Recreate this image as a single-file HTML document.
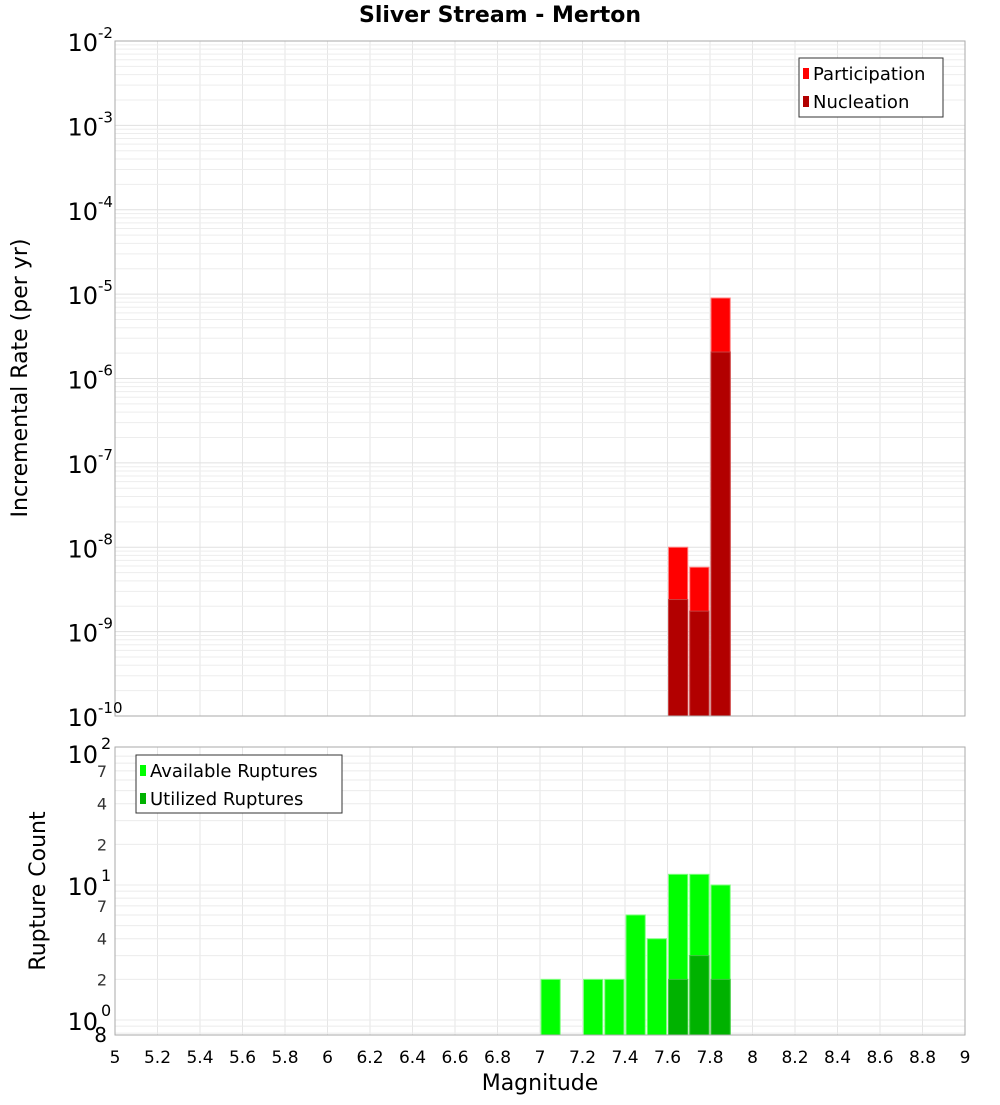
<!DOCTYPE html>
<html><head><meta charset="utf-8"><style>
body{margin:0;background:#fff;font-family:"Liberation Sans","DejaVu Sans",sans-serif}
svg text{font-family:"DejaVu Sans","Liberation Sans",sans-serif}
</style></head><body>
<svg id="c" width="1000" height="1100" xmlns="http://www.w3.org/2000/svg">
<rect width="1000" height="1100" fill="#fff"/>
<text x="500" y="22" text-anchor="middle" font-size="22" font-weight="bold">Sliver Stream - Merton</text>
<g id="top"></g>
<g id="bot"></g>
<text transform="translate(27,378) rotate(-90)" text-anchor="middle" font-size="22">Incremental Rate (per yr)</text>
<text transform="translate(45,891) rotate(-90)" text-anchor="middle" font-size="22">Rupture Count</text>
<text x="540" y="1090" text-anchor="middle" font-size="22">Magnitude</text>
</svg>
<script>
const binStarts=[7.6,7.7,7.8];
const participation=[1.0e-8,5.8e-9,9.0e-6];
const nucleation=[2.4e-9,1.75e-9,2.06e-6];
const countBins=[7.0,7.2,7.3,7.4,7.5,7.6,7.7,7.8];
const available=[2,2,2,6,4,12,12,10];
const utilBins=[7.6,7.7,7.8];
const utilized=[2,3,2];
const xTicks=[5,5.2,5.4,5.6,5.8,6,6.2,6.4,6.6,6.8,7,7.2,7.4,7.6,7.8,8,8.2,8.4,8.6,8.8,9];
const topExps=[-2,-3,-4,-5,-6,-7,-8,-9,-10];
const botMinorLabels=[2,4,7];

const NS="http://www.w3.org/2000/svg";
const L=115,R=965;
const X=m=>L+(m-5)*(R-L)/4;
const T0=41,T1=716;
const YT=v=>T1-(Math.log10(v)+10)*(T1-T0)/8;
const B0=747,B1=1035;
const YB=v=>1020-135*Math.log10(v);
function el(p,tag,a,txt){const e=document.createElementNS(NS,tag);for(const k in a)e.setAttribute(k,a[k]);if(txt!==undefined)e.textContent=txt;p.appendChild(e);return e;}
const gTop=document.getElementById('top'),gBot=document.getElementById('bot');
function frame(g,y0,y1,nm){
 for(const t of xTicks){const l=el(g,'line',{x1:X(t),x2:X(t),y1:y0,y2:y1,stroke:'#e6e6e6'});
 
 }
}
frame(gTop,T0,T1,'rate');frame(gBot,B0,B1,'count');
for(let e=-10;e<-2;e++)for(let k=1;k<10;k++){const y=YT(k*Math.pow(10,e));
 const l=el(gTop,'line',{x1:L,x2:R,y1:y,y2:y,stroke:k==1?'#e0e0e0':'#ededed'});
 
 }
for(let e=-1;e<2;e++)for(let k=1;k<10;k++){const v=k*Math.pow(10,e);const y=YB(v);if(y<B0||y>B1)continue;
 const l=el(gBot,'line',{x1:L,x2:R,y1:y,y2:y,stroke:'#ebebeb'});
 
 }
const bw=(R-L)/40;
function bar(g,m,v,yf,base,fill,stroke,nm){const y=yf(v);const r=el(g,'rect',{x:X(m)+1,y:y,width:bw-2,height:base-y,fill:fill,stroke:stroke,'stroke-width':1});
 
 }
binStarts.forEach((m,i)=>bar(gTop,m,participation[i],YT,T1,'#ff0000','#ff8080','participation-bar'));
binStarts.forEach((m,i)=>bar(gTop,m,nucleation[i],YT,T1,'#b20000','#c84040','nucleation-bar'));
countBins.forEach((m,i)=>bar(gBot,m,available[i],YB,B1,'#00ff00','#80ff80','available-bar'));
utilBins.forEach((m,i)=>bar(gBot,m,utilized[i],YB,B1,'#00b200','#40c840','utilized-bar'));
let f=el(gTop,'rect',{x:L,y:T0,width:R-L,height:T1-T0,fill:'none',stroke:'#aaa'});


f=el(gBot,'rect',{x:L,y:B0,width:R-L,height:B1-B0,fill:'none',stroke:'#aaa'});


for(const t of xTicks){const tx=el(gBot,'text',{x:X(t),y:1063,'text-anchor':'middle','font-size':17},String(t));
 
 }
for(const e of topExps){const y=YT(Math.pow(10,e));
 const tx=el(gTop,'text',{x:98,y:y+10,'text-anchor':'end','font-size':24},'10');
 
 
 const s=el(gTop,'text',{x:98,y:y-3,'font-size':15},String(e));
 
 }
[[2,'2'],[1,'1'],[0,'0']].forEach(([e,s])=>{const y=YB(Math.pow(10,e))+(e==2?3:0);
 const tx=el(gBot,'text',{x:98,y:y+10,'text-anchor':'end','font-size':24},'10');
 
 
 const sp=el(gBot,'text',{x:101,y:y-4,'font-size':16},s);
 
 });
for(let e=0;e<2;e++)for(const k of botMinorLabels){const y=YB(k*Math.pow(10,e));
 const tx=el(gBot,'text',{x:107,y:y+6,'text-anchor':'end','font-size':16,fill:'#333'},String(k));
 
 }
let t8=el(gBot,'text',{x:107,y:1042,'text-anchor':'end','font-size':20},'8');


function legend(g,x,y,w,h,items,nm){const lg=el(g,'g',{});
 
 
 el(lg,'rect',{x:x,y:y,width:w,height:h,fill:'#fff',stroke:'#333'});
 items.forEach((it,i)=>{const yy=y+15+i*28;const sw=el(lg,'rect',{x:x+4,y:yy-5,width:6,height:11,fill:it[1]});
 
 
 const tx=el(lg,'text',{x:x+14,y:yy+7,'font-size':18},it[0]);
 
 });}
legend(gTop,799,58,144,59,[['Participation','#ff0000'],['Nucleation','#b20000']],'rate-legend');
legend(gBot,136,755,206,58,[['Available Ruptures','#00ff00'],['Utilized Ruptures','#00b200']],'count-legend');
</script>
</body></html>
